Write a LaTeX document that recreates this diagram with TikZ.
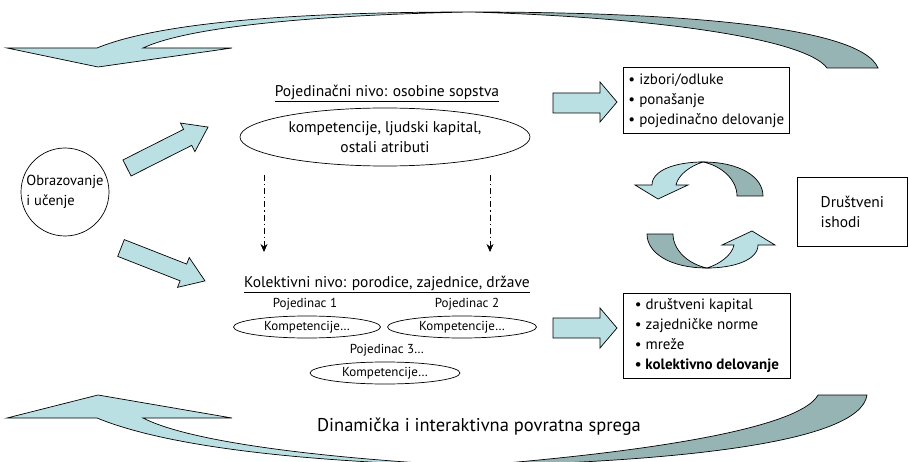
\documentclass[tikz,border=0pt]{standalone}
\usepackage{fontspec}
\setmainfont{PT Sans}
\usetikzlibrary{arrows.meta,shapes.geometric}
\definecolor{lightarr}{RGB}{187,224,228}
\definecolor{darkarr}{RGB}{150,180,180}
\begin{document}
\begin{tikzpicture}[x=1pt,y=-1pt,line width=0.7pt,
  lightfill/.style={fill=lightarr,draw=black,line join=miter},
  darkfill/.style={fill=darkarr,draw=black,line join=miter},
  mainfont/.style={font=\fontsize{15.5}{20}\selectfont},
  boxfont/.style={font=\fontsize{15}{20}\selectfont},
  smallfont/.style={font=\fontsize{13}{15}\selectfont},
  listbox/.style={draw,boxfont,align=left,anchor=north west,inner xsep=3.5pt,inner ysep=0pt},
  oval/.style={ellipse,draw,inner sep=0pt},
  dashdotarrow/.style={dash pattern=on 6pt off 3pt on 1.2pt off 3pt,-{Stealth[length=8pt,width=7pt]}}]
\useasboundingbox (0,0) rectangle (909,462);
\clip (0,0) rectangle (909,462);
% top big curved arrow
\path[lightfill] (143,48) -- (232,48) -- (98,67) -- (7,48) -- (97,48)
  .. controls (160,22) and (300,12) .. (470,12)
  .. controls (320,15) and (190,26) .. (143,48) -- cycle;
\path[darkfill] (470,12) .. controls (660,12) and (860,24) .. (878,68)
  -- (827,68) .. controls (805,38) and (650,17) .. (470,12) -- cycle;
% bottom big curved arrow
\path[lightfill] (143,418) -- (232,418) -- (98,395) -- (7,418) -- (97,418)
  .. controls (170,448) and (310,462) .. (470,466)
  .. controls (320,458) and (190,442) .. (143,418) -- cycle;
\path[darkfill] (470,466) .. controls (660,462) and (860,445) .. (867,395)
  -- (818,395) .. controls (800,428) and (650,452) .. (470,466) -- cycle;
% small circular arrows
\begin{scope}
\path[lightfill] (676,185) -- (688,185) -- (658,199) -- (635,185) -- (652,185)
  .. controls (652,170) and (676,162) .. (703,162)
  .. controls (690,166) and (678,175) .. (676,185) -- cycle;
\path[darkfill] (703,162) .. controls (740,162) and (763,177) .. (763,196)
  -- (737,196) .. controls (737,180) and (722,166) .. (703,162) -- cycle;
\end{scope}
\begin{scope}[rotate around={180:(705,215)}]
\path[lightfill] (676,185) -- (688,185) -- (658,199) -- (635,185) -- (652,185)
  .. controls (652,170) and (676,162) .. (703,162)
  .. controls (690,166) and (678,175) .. (676,185) -- cycle;
\path[darkfill] (703,162) .. controls (740,162) and (763,177) .. (763,196)
  -- (737,196) .. controls (737,180) and (722,166) .. (703,162) -- cycle;
\end{scope}
% block arrows from circle
\begin{scope}[shift={(127,168)},rotate=26.8]
\path[lightfill] (0,-9) -- (68,-9) -- (68,-16) -- (90.8,0) -- (68,16) -- (68,9) -- (0,9) -- cycle;
\end{scope}
\begin{scope}[shift={(121,248)},rotate=-21.4]
\path[lightfill] (0,-9) -- (67,-9) -- (67,-16) -- (90.2,0) -- (67,16) -- (67,9) -- (0,9) -- cycle;
\end{scope}
% right block arrows
\path[lightfill] (553,93) -- (600,93) -- (600,82) -- (617,102) -- (600,122) -- (600,113) -- (553,113) -- cycle;
\path[lightfill] (553,318) -- (600,318) -- (600,308) -- (617,328) -- (600,348) -- (600,338) -- (553,338) -- cycle;
% nodes
\node[circle,draw,minimum size=88pt,inner sep=0pt,font=\fontsize{14.5}{20}\selectfont,align=left] (edu) at (65,192) {Obrazovanje\\i učenje};
\node[mainfont] (indtitle) at (387,93) {\underline{Pojedinačni nivo: osobine sopstva}};
\node[oval,minimum width=290pt,minimum height=58pt,mainfont,align=center] (indiv) at (385,137) {kompetencije, ljudski kapital,\\ostali atributi};
\node[mainfont] (coltitle) at (387,284) {\underline{Kolektivni nivo: porodice, zajednice, države}};
\node[smallfont] (p1) at (305,304) {Pojedinac 1};
\node[smallfont] (p2) at (467,304) {Pojedinac 2};
\node[smallfont] (p3) at (387,350) {Pojedinac 3…};
\node[oval,minimum width=147pt,minimum height=22pt,smallfont] (k1) at (307,327) {Kompetencije…};
\node[oval,minimum width=149pt,minimum height=22pt,smallfont] (k2) at (462,327) {Kompetencije…};
\node[oval,minimum width=150pt,minimum height=22pt,smallfont] (k3) at (385,373) {Kompetencije…};
\node[listbox,minimum width=166pt,minimum height=66pt] (indbox) at (623,67) {• izbori/odluke\\• ponašanje\\• pojedinačno delovanje};
\node[listbox,minimum width=167pt,minimum height=85pt] (colbox) at (623,293) {• društveni kapital\\• zajedničke norme\\• mreže\\\textbf{• kolektivno delovanje}};
\node[draw,minimum width=110pt,minimum height=69pt,anchor=north west,mainfont,align=left] (out) at (797,177) {Društveni\\ishodi};
\node[font=\fontsize{18.5}{22}\selectfont] (fb) at (479,427) {Dinamička i interaktivna povratna sprega};
% dash-dot arrows
\coordinate (d1s) at (264,175);
\coordinate (d1e) at (264,252);
\coordinate (d2s) at (490,175);
\coordinate (d2e) at (490,252);
\draw[dashdotarrow] (d1s) -- (d1e);
\draw[dashdotarrow] (d2s) -- (d2e);
\end{tikzpicture}
\end{document}
